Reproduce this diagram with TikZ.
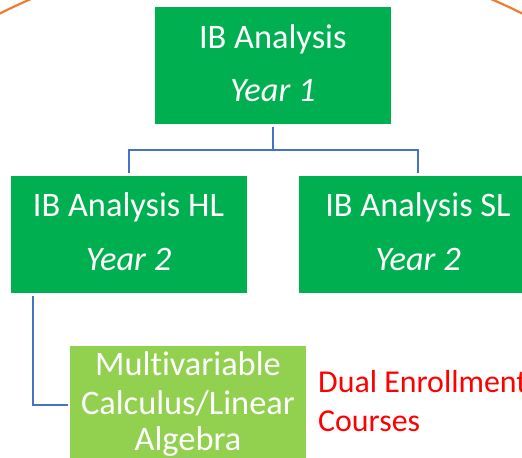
\documentclass[tikz,border=0pt]{standalone}
\usepackage{fontspec}
\setmainfont{Carlito}[Ligatures={NoCommon}]
\definecolor{boxgreen}{HTML}{00B050}
\definecolor{lightgreen}{HTML}{92D050}
\definecolor{connblue}{HTML}{4472C4}
\definecolor{arcorange}{HTML}{ED7D31}
\definecolor{dered}{HTML}{FF0000}
\begin{document}
\begin{tikzpicture}[x=1bp,y=-1bp,
  gbox/.style={fill=boxgreen, draw=none, minimum width=235.5bp, minimum height=117bp, inner sep=0pt, outer sep=0pt, anchor=north west},
  lbox/.style={gbox, fill=lightgreen, minimum width=236bp, minimum height=118bp},
  btext/.style={text=white, font=\fontsize{34.5}{40}\selectfont, inner sep=0pt, anchor=base},
  conn/.style={draw=connblue, line width=2.2bp},
  note/.style={text=dered, font=\fontsize{32}{38}\selectfont, inner sep=0pt, anchor=base west}]
\useasboundingbox (0,0) rectangle (522,458);
\clip (0,0) rectangle (522,458);
\draw[arcorange, line width=2.2bp] (261,536) circle[radius=584bp];
% boxes
\node[gbox] (top) at (155,7) {};
\node[gbox] (hl) at (11,176) {};
\node[gbox, minimum width=238bp] (sl) at (299,176) {};
\node[lbox] (mv) at (70,346) {};
% texts
\node[btext] (topA) at (272.8,49) {IB Analysis};
\node[btext] (topB) at (272.8,102) {\itshape Year 1};
\node[btext] (hlA) at (128.5,217) {IB Analysis HL};
\node[btext] (hlB) at (128.5,270) {\itshape Year 2};
\node[btext] (slA) at (418,217) {IB Analysis SL};
\node[btext] (slB) at (418,270) {\itshape Year 2};
\node[btext] (mvA) at (188,375.7) {Multivariable};
\node[btext] (mvB) at (188,414) {Calculus/Linear};
\node[btext] (mvC) at (188,450.7) {Algebra};
\node[note] (deA) at (318,392.7) {Dual Enrollment};
\node[note] (deB) at (318,431.7) {Courses};
% connectors
\coordinate (busY) at (0,150);
\coordinate (hlLeg) at ([xshift=22bp]hl.south west);
\draw[conn, shorten <=3bp] (top.south) -- (top.south |- busY);
\draw[conn, shorten >=3bp] (top.south |- busY) -| (hl.north);
\draw[conn, shorten >=3bp] (top.south |- busY) -| (sl.north);
\draw[conn, shorten <=3bp, shorten >=2bp] (hlLeg) |- (mv.west);
\end{tikzpicture}
\end{document}
